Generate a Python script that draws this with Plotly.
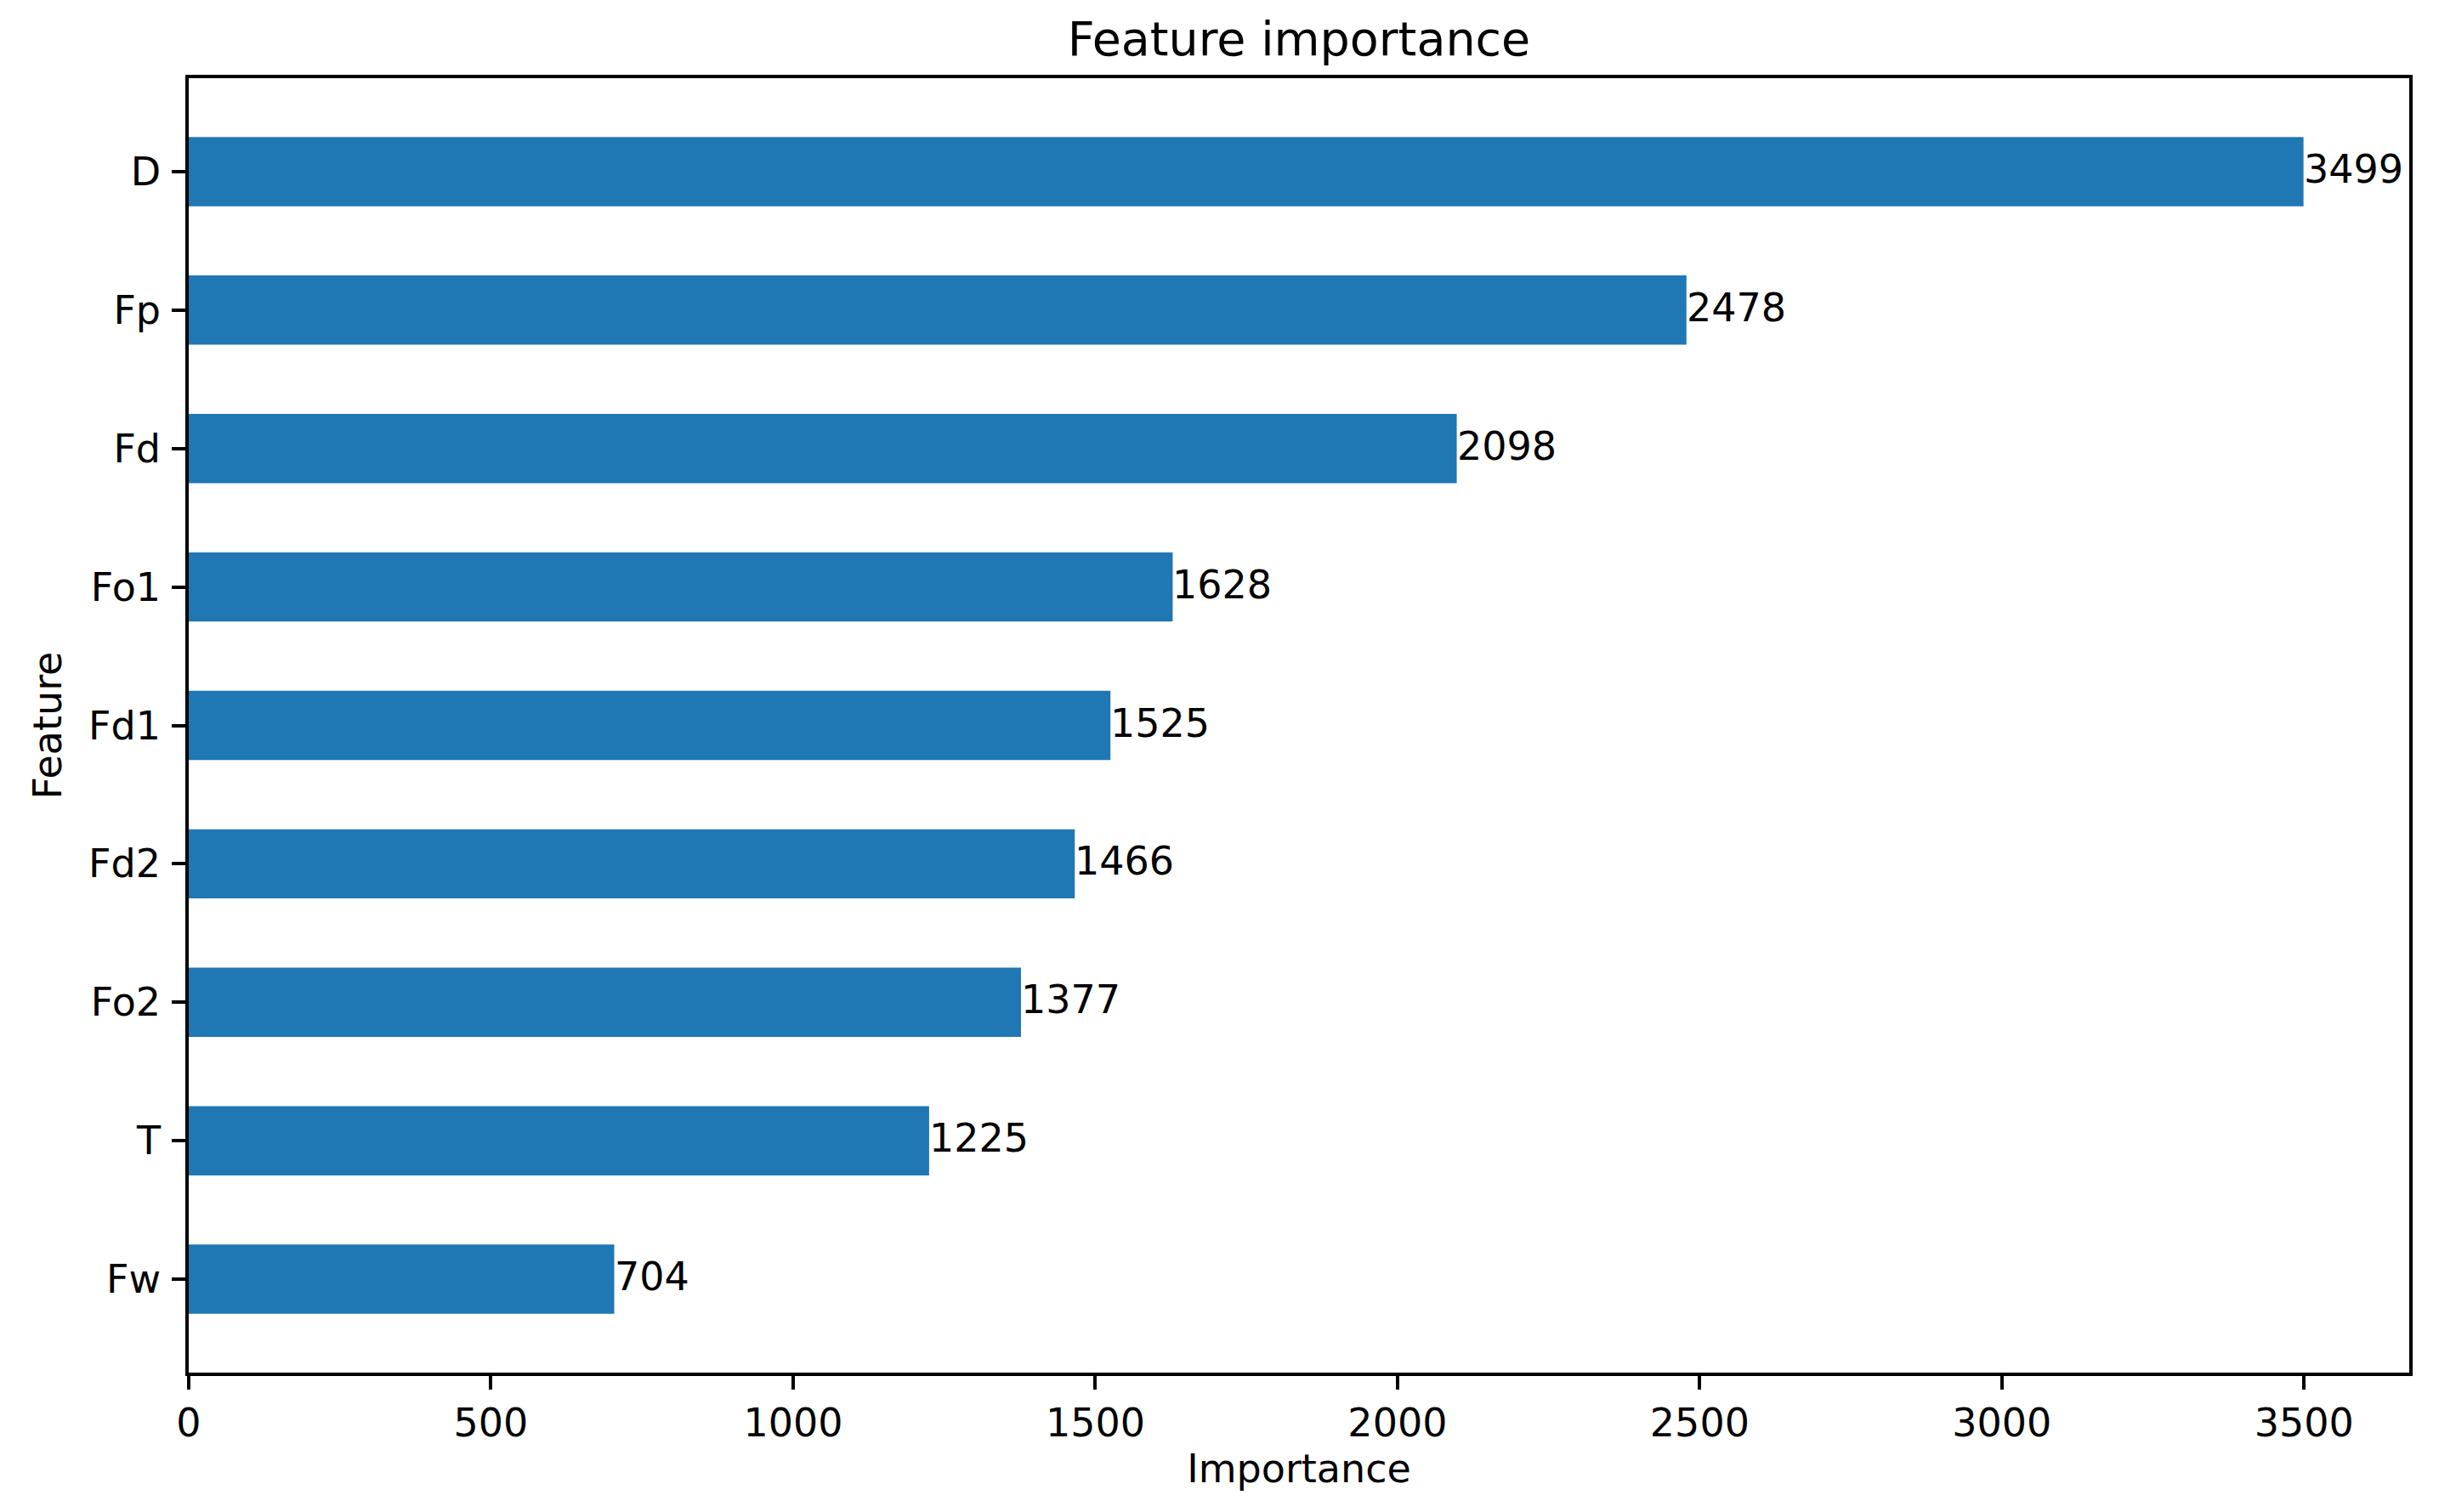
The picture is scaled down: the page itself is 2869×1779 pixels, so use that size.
import plotly.graph_objects as go

# ---- data ----
features = ["Fw", "T", "Fo2", "Fd2", "Fd1", "Fo1", "Fd", "Fp", "D"]
importance = [704, 1225, 1377, 1466, 1525, 1628, 2098, 2478, 3499]
x_tick_vals = [0, 500, 1000, 1500, 2000, 2500, 3000, 3500]
x_tick_text = ["0", "500", "1000", "1500", "2000", "2500", "3000", "3500"]
title_text = "Feature importance"
x_title = "Importance"
y_title = "Feature"

# ---- layout constants ----
W, H = 2869, 1779
PL, PR, PT, PB = 222, 2834, 92, 1615
FONT = "DejaVu Sans"
TICK_SIZE = 46
TITLE_SIZE = 55.5
BAR_COLOR = "#1f77b4"
LW = 3.5

fig = go.Figure()
fig.add_trace(go.Bar(
    x=importance,
    y=features,
    orientation="h",
    width=0.5,
    marker=dict(color=BAR_COLOR, line=dict(width=0)),
    hoverinfo="x+y",
))

annotations = []
for f, v in zip(features, importance):
    annotations.append(dict(
        x=v, y=f, xref="x", yref="y",
        text=str(v), showarrow=False,
        xanchor="left", yanchor="middle",
        font=dict(family=FONT, size=TICK_SIZE, color="black"),
        borderpad=0, xshift=-1, yshift=3,
    ))

fig.update_layout(
    width=W, height=H,
    margin=dict(l=PL, r=W - PR, t=PT, b=H - PB, autoexpand=False),
    paper_bgcolor="white",
    plot_bgcolor="white",
    showlegend=False,
    font=dict(family=FONT, size=TICK_SIZE, color="black"),
    title=dict(
        text=title_text,
        x=(PL + PR) / 2 / W, xanchor="center", xref="container",
        y=1 - 46 / H, yanchor="middle", yref="container",
        font=dict(family=FONT, size=TITLE_SIZE, color="black"),
    ),
    annotations=annotations,
)

fig.update_xaxes(
    range=[0, max(importance) * 1.05],
    tickmode="array", tickvals=x_tick_vals, ticktext=x_tick_text,
    showgrid=False, zeroline=False,
    showline=True, linecolor="black", linewidth=LW, mirror=True,
    ticks="outside", ticklen=16, tickwidth=LW, tickcolor="black",
    tickfont=dict(family=FONT, size=TICK_SIZE, color="black"),
    title=dict(text=x_title, font=dict(family=FONT, size=TICK_SIZE, color="black"), standoff=12),
)
fig.update_yaxes(
    type="category",
    categoryorder="array", categoryarray=features,
    range=[-0.675, len(features) - 1 + 0.675],
    showgrid=False, zeroline=False,
    showline=True, linecolor="black", linewidth=LW, mirror=True,
    ticks="outside", ticklen=16, tickwidth=LW, tickcolor="black",
    ticklabelstandoff=4,
    tickfont=dict(family=FONT, size=TICK_SIZE, color="black"),
    title=dict(text=y_title, font=dict(family=FONT, size=TICK_SIZE, color="black"), standoff=18),
)

fig.write_html(
    "out.html",
    config={"displayModeBar": False},
    post_script="document.body.style.margin='0';document.body.style.padding='0';",
)
